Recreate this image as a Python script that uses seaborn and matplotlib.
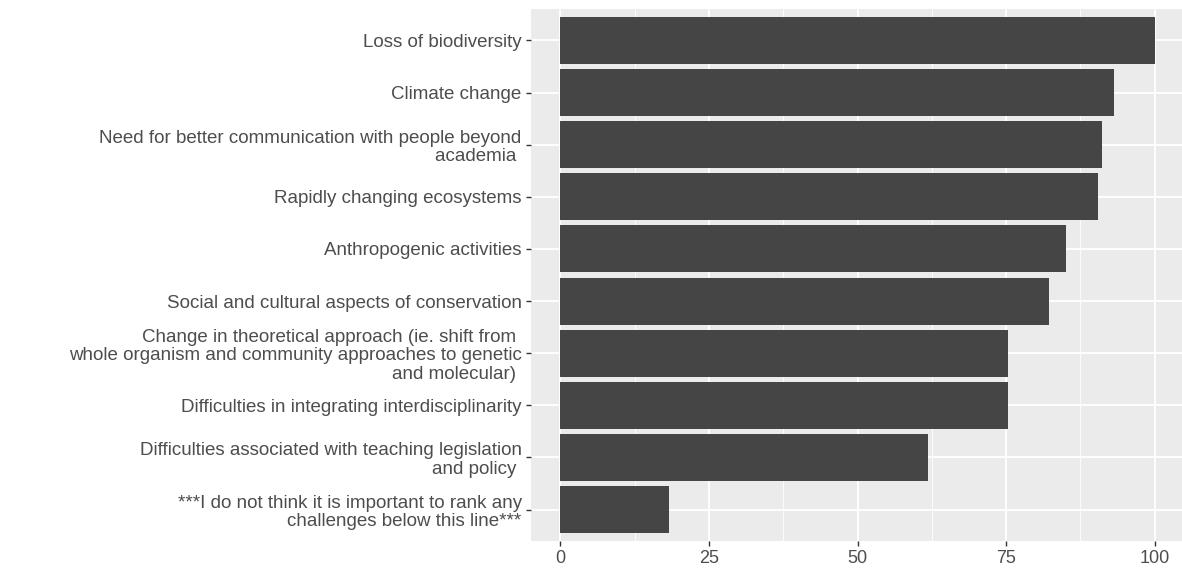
import matplotlib
matplotlib.use("Agg")
import matplotlib.pyplot as plt
import seaborn as sns
import pandas as pd
from matplotlib.ticker import MultipleLocator

categories = [
    "Loss of biodiversity",
    "Climate change",
    "Need for better communication with people beyond\nacademia ",
    "Rapidly changing ecosystems",
    "Anthropogenic activities",
    "Social and cultural aspects of conservation",
    "Change in theoretical approach (ie. shift from \nwhole organism and community approaches to genetic\nand molecular) ",
    "Difficulties in integrating interdisciplinarity",
    "Difficulties associated with teaching legislation\nand policy ",
    "***I do not think it is important to rank any\nchallenges below this line***",
]
values = [100, 93.1, 91.1, 90.4, 85.1, 82.3, 75.4, 75.4, 61.9, 18.3]
x_ticks = [0, 25, 50, 75, 100]

df = pd.DataFrame({"challenge": categories, "score": values})

sns.set_theme(style="white")
plt.rcParams["font.family"] = ["Liberation Sans", "DejaVu Sans"]

fig = plt.figure(figsize=(11.82, 5.72), dpi=100)
ax = fig.add_axes([0.449, 0.0545, 0.553, 0.9295])
ax.set_facecolor("#EBEBEB")

sns.barplot(data=df, y="challenge", x="score", order=categories,
            color="#454545", saturation=1, width=0.9, ax=ax, orient="h",
            edgecolor="none", linewidth=0)

ax.set_xlim(-5, 105)
ax.set_ylim(len(categories) - 0.4, -0.6)
ax.xaxis.set_major_locator(MultipleLocator(25))
ax.xaxis.set_minor_locator(MultipleLocator(12.5))
ax.set_xticks(x_ticks)
ax.set_xticklabels([str(t) for t in x_ticks])
ax.grid(True, which="major", axis="both", color="white", linewidth=1.3)
ax.grid(True, which="minor", axis="x", color="white", linewidth=0.6)
ax.set_axisbelow(True)
for s in ax.spines.values():
    s.set_visible(False)

ax.tick_params(axis="both", which="major", length=3.5, width=1, color="#333333",
               labelcolor="#4D4D4D", pad=3, left=True, bottom=True)
ax.tick_params(axis="y", which="major", labelsize=13.5)
ax.tick_params(axis="x", which="major", labelsize=13)
ax.tick_params(axis="x", which="minor", length=0)
for lbl in ax.get_yticklabels():
    lbl.set_multialignment("right")
    lbl.set_linespacing(1.1)
ax.set_xlabel("")
ax.set_ylabel("")

fig.savefig("out.png", dpi=100)
